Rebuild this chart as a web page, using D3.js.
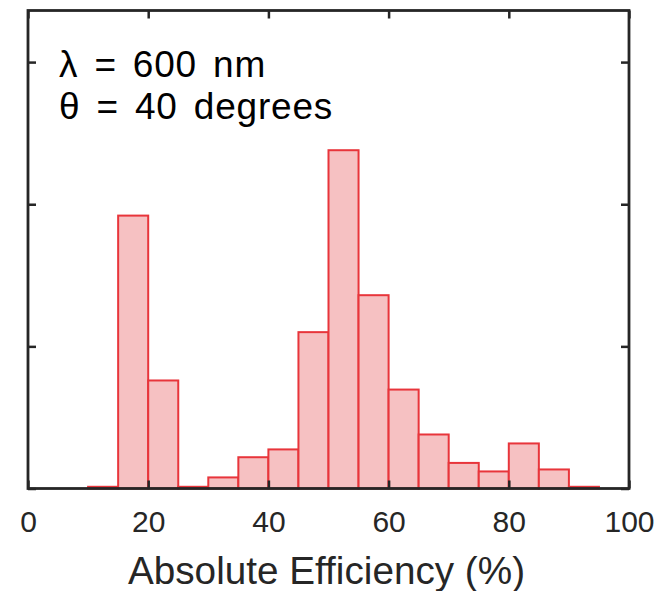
<!DOCTYPE html>
<html>
<head>
<meta charset="utf-8">
<script src="https://cdn.jsdelivr.net/npm/d3@7"></script>
<style>
  body { margin: 0; background: #fff; }
  svg { font-family: "Liberation Sans", Arial, Helvetica, sans-serif; }
</style>
</head>
<body>
<div id="chart"></div>
<script>
// bin edges (5% wide) and probability per bin
var binStart = [10, 15, 20, 25, 30, 35, 40, 45, 50, 55, 60, 65, 70, 75, 80, 85, 90];
var probs = [0.0012, 0.192, 0.076, 0.0012, 0.0078, 0.022, 0.0275, 0.110, 0.238,
             0.136, 0.0696, 0.038, 0.018, 0.012, 0.0317, 0.0134, 0.0012];
var binWidth = 5;
var xTicks = [0, 20, 40, 60, 80, 100];
var yTicks = [0, 0.1, 0.2, 0.3];
var notes = ["\u03bb = 600 nm", "\u03b8 = 40 degrees"];

var W = 663, H = 591;
var margin = {top: 10.5, right: 34, bottom: 102.5, left: 28};
var w = W - margin.left - margin.right,
    h = H - margin.top - margin.bottom;

var svg = d3.select("#chart").append("svg")
    .attr("width", W).attr("height", H)
  .append("g")
    .attr("transform", "translate(" + margin.left + "," + margin.top + ")");

var xScale = d3.scaleLinear().domain([0, 100]).range([0, w]);
var yScale = d3.scaleLinear().domain([0, 0.3363]).range([h, 0]);

var axisColor = "#262626";

// bars
var bins = binStart.map(function(s, i) { return {x0: s, x1: s + binWidth, p: probs[i]}; });
svg.selectAll("rect.bar")
    .data(bins)
  .enter().append("rect")
    .attr("class", "bar")
    .attr("x", function(d) { return xScale(d.x0); })
    .attr("y", function(d) { return yScale(d.p); })
    .attr("width", function(d) { return xScale(d.x1) - xScale(d.x0); })
    .attr("height", function(d) { return yScale(0) - yScale(d.p); })
    .style("fill", "#f6c1c2")
    .style("stroke", "#e8353b")
    .style("stroke-width", 2);

// axes (ticks inward, mirrored on the box)
var tickLen = 8;
var xAxis = d3.axisBottom(xScale).tickValues(xTicks).tickSize(-tickLen).tickPadding(22)
    .tickFormat(d3.format("d"));
var gx = svg.append("g")
    .attr("transform", "translate(0," + h + ")")
    .call(xAxis);
gx.select(".domain").remove();
gx.selectAll("line").style("stroke", axisColor).style("stroke-width", 2.5);
gx.selectAll("text").style("font-size", "30px").style("fill", axisColor);

var gxTop = svg.append("g").call(d3.axisTop(xScale).tickValues(xTicks).tickSize(-tickLen).tickFormat(""));
gxTop.select(".domain").remove();
gxTop.selectAll("line").style("stroke", axisColor).style("stroke-width", 2.5);

var gyL = svg.append("g").call(d3.axisLeft(yScale).tickValues(yTicks).tickSize(-tickLen).tickFormat(""));
gyL.select(".domain").remove();
gyL.selectAll("line").style("stroke", axisColor).style("stroke-width", 2.5);

var gyR = svg.append("g").attr("transform", "translate(" + w + ",0)")
    .call(d3.axisRight(yScale).tickValues(yTicks).tickSize(-tickLen).tickFormat(""));
gyR.select(".domain").remove();
gyR.selectAll("line").style("stroke", axisColor).style("stroke-width", 2.5);

// box
svg.append("rect")
    .attr("x", 0).attr("y", 0)
    .attr("width", w).attr("height", h)
    .style("fill", "none")
    .style("stroke", axisColor)
    .style("stroke-width", 2.8);

// x label
svg.append("text")
    .attr("x", w / 2 - 2)
    .attr("y", h + 95)
    .style("text-anchor", "middle")
    .style("font-size", "38.7px")
    .style("fill", axisColor)
    .text("Absolute Efficiency (%)");

// annotation
svg.selectAll("text.note")
    .data(notes)
  .enter().append("text")
    .attr("class", "note")
    .attr("x", 31)
    .attr("y", function(d, i) { return 66.5 + i * 42; })
    .style("font-size", "37px")
    .style("letter-spacing", "0.8px")
    .style("word-spacing", "5px")
    .style("fill", "#000")
    .text(function(d) { return d; });
</script>
</body>
</html>
